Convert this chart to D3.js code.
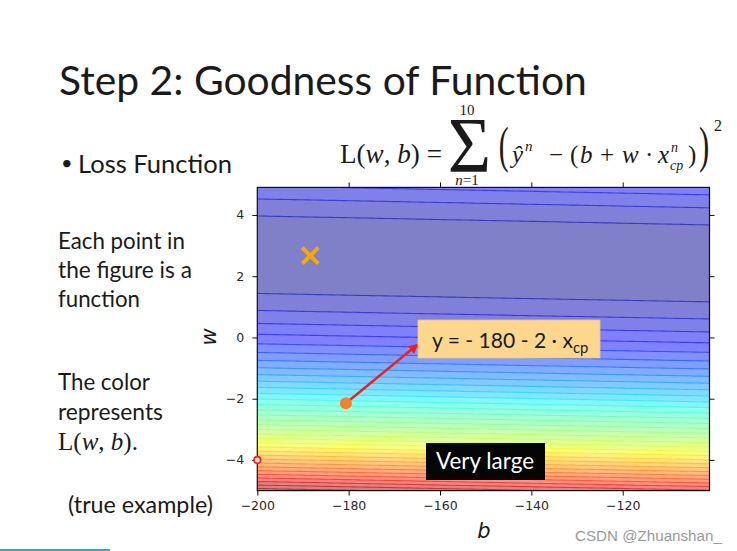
<!DOCTYPE html>
<html><head><meta charset="utf-8">
<script src="https://cdn.jsdelivr.net/npm/d3@7"></script>
<style>html,body{margin:0;padding:0;background:#fff;} svg{display:block;}</style>
</head><body><svg id="c" width="737" height="551"></svg>
<script>
// ---------------- data ----------------
const xCp  = [338, 333, 328, 207, 226, 25, 179, 60, 208, 606];     // x_cp^n
const yHat = [640, 633, 619, 393, 428, 27, 193, 66, 226, 1591];    // y-hat^n
const bValues = d3.range(-200, -100, 1);                 // b grid
const wValues = d3.range(-50, 50, 1).map(k => k / 10);   // w grid
const xTicks = [-200, -180, -160, -140, -120];
const yTicks = [-4, -2, 0, 2, 4];
const levelStep = 150000;
const bestFit = [-188.4, 2.67];
const pickedPoint = [-180.6, -2.15];
const startPoint = [-200, -4];

// ---------------- helpers ----------------
const svg = d3.select('#c');
svg.append('rect').attr('width', 737).attr('height', 551).attr('fill', '#fff');
const SANS = 'Lato, "Open Sans", sans-serif';
const SERIF = '"Liberation Serif", "DejaVu Serif", serif';
const MPL = '"DejaVu Sans", sans-serif';
const INK = '#1a1a1a';
const cv = document.createElement('canvas').getContext('2d');

function mixed(parent, x, y, parts, font, size, fill) {
  const t = parent.append('text').attr('x', x).attr('y', y)
    .attr('font-family', font).attr('font-size', size).attr('fill', fill || INK);
  parts.forEach(p => {
    const s = t.append('tspan').text(p[0]);
    if (p[1]) s.attr('font-style', 'italic');
  });
  return t;
}
function fit(t, target) {
  const base = +t.attr('font-size');
  const w = t.node().getComputedTextLength();
  t.attr('font-size', base * target / w);
  return t;
}
function glyphBox(str, fontFam, x0, y0, x1, y1) {
  cv.font = `normal 100px ${fontFam}`;
  const m = cv.measureText(str);
  const l = m.actualBoundingBoxLeft, r = m.actualBoundingBoxRight;
  const a = m.actualBoundingBoxAscent, d = m.actualBoundingBoxDescent;
  const sx = (x1 - x0) / (l + r), sy = (y1 - y0) / (a + d);
  svg.append('text').attr('font-family', fontFam).attr('font-size', 100).attr('fill', INK)
    .attr('transform', `translate(${x0 + l * sx},${y0 + a * sy}) scale(${sx},${sy})`)
    .text(str);
}
function piece(x, y, str, italic, size) {
  return svg.append('text').attr('x', x).attr('y', y).attr('font-family', SERIF)
    .attr('font-style', italic ? 'italic' : 'normal').attr('font-size', size).attr('fill', INK).text(str);
}

// ---------------- slide text ----------------
fit(mixed(svg, 59, 95, [['Step 2: Goodness of Function']], SANS, 40), 528);
svg.append('text').attr('x', 61).attr('y', 170).attr('font-family', SANS).attr('font-size', 20).attr('fill', INK).text('•');
fit(mixed(svg, 78, 173, [['Loss Function']], SANS, 26), 154);
fit(mixed(svg, 58, 249, [['Each point in']], SANS, 20), 127);
fit(mixed(svg, 58, 278, [['the figure is a']], SANS, 20), 134);
fit(mixed(svg, 58, 307, [['function']], SANS, 20), 82);
fit(mixed(svg, 58, 390, [['The color']], SANS, 20), 92);
fit(mixed(svg, 58, 420, [['represents']], SANS, 20), 105);
fit(mixed(svg, 58, 450, [['L('], ['w', 1], [', '], ['b', 1], [').']], SERIF, 20), 80);
fit(mixed(svg, 68, 513, [['(true example)']], SANS, 20), 145);

// formula  L(w,b) = Σ ( ŷ^n − (b + w · x_cp^n) )^2
fit(mixed(svg, 340, 163, [['L('], ['w', 1], [', '], ['b', 1], [') =']], SERIF, 24), 102);
glyphBox('Σ', '"Liberation Serif"', 450, 121, 488, 172);
piece(467, 115, '10', false, 15).attr('text-anchor', 'middle');
mixed(svg, 467, 185, [['n', 1], ['=1']], SERIF, 15).attr('text-anchor', 'middle');
glyphBox('(', '"Liberation Serif"', 500, 127, 508, 173);
const FS = 25;
piece(512, 163, 'ŷ', true, FS);
piece(525, 151, 'n', true, 15);
piece(549, 163, '−', false, FS);
piece(570, 163, '(', false, FS);
piece(580, 163, 'b', true, FS);
piece(600, 163, '+', false, FS);
piece(622, 163, 'w', true, FS);
piece(645, 163, '·', false, FS);
piece(658, 163, 'x', true, FS);
piece(671, 152, 'n', true, 14);
piece(670, 170, 'cp', true, 14);
piece(688, 163, ')', false, FS);
glyphBox(')', '"Liberation Serif"', 700, 127, 708, 173);
piece(714, 131, '2', false, 16);

// ---------------- chart ----------------
const x = d3.scaleLinear().domain([-200, -101]).range([257.3, 709.5]);
const y = d3.scaleLinear().domain([-5, 4.9]).range([490.6, 187.4]);

const nx = bValues.length, ny = wValues.length;
const Z = new Array(nx * ny);
for (let j = 0; j < ny; j++) for (let i = 0; i < nx; i++) {
  const b = bValues[i], w = wValues[j];
  let s = 0;
  for (let n = 0; n < xCp.length; n++) { const r = yHat[n] - b - w * xCp[n]; s += r * r; }
  Z[j * nx + i] = s / xCp.length;
}
const zmax = d3.max(Z);
const levels = d3.range(0, Math.ceil(zmax / levelStep) * levelStep + 1, levelStep);
const lmax = levels[levels.length - 1];

function interp(stops, t) {
  for (let k = 1; k < stops.length; k++) {
    if (t <= stops[k][0]) {
      const [t0, v0] = stops[k - 1], [t1, v1] = stops[k];
      return v0 + (v1 - v0) * (t - t0) / (t1 - t0);
    }
  }
  return stops[stops.length - 1][1];
}
const JR = [[0, 0], [0.35, 0], [0.66, 1], [0.89, 1], [1, 0.5]];
const JG = [[0, 0], [0.125, 0], [0.375, 1], [0.64, 1], [0.91, 0], [1, 0]];
const JB = [[0, 0.5], [0.11, 1], [0.34, 1], [0.65, 0], [1, 0]];
const jet = t => [interp(JR, t), interp(JG, t), interp(JB, t)];
const rgb = (c, a) => `rgb(${c.map(v => Math.round(255 * (v * a + (1 - a)))).join(',')})`;
const rgbRaw = c => `rgb(${c.map(v => Math.round(255 * v)).join(',')})`;

const bands = levels.slice(0, -1);
const contours = d3.contours().size([nx, ny]).thresholds(bands)(Z);
const db = bValues[1] - bValues[0], dw = 0.1;
const proj = d3.geoTransform({
  point(px, py) { this.stream.point(x(bValues[0] + (px - 0.5) * db), y(wValues[0] + (py - 0.5) * dw)); }
});
const path = d3.geoPath(proj);

svg.append('clipPath').attr('id', 'clip').append('rect')
  .attr('x', x(-200)).attr('y', y(4.9)).attr('width', x(-101) - x(-200)).attr('height', y(-5) - y(4.9));
const gc = svg.append('g').attr('clip-path', 'url(#clip)');
contours.forEach((c, k) => {
  const mid = (levels[k] + levels[k + 1]) / 2 / lmax;
  gc.append('path').attr('d', path(c)).attr('fill', rgb(jet(mid), 0.5)).attr('stroke', 'none');
});
contours.forEach((c, k) => {
  if (k === 0) return;
  const mid = (levels[k] + levels[k + 1]) / 2 / lmax;
  gc.append('path').attr('d', path(c)).attr('fill', 'none')
    .attr('stroke', rgbRaw(jet(mid))).attr('stroke-opacity', 0.55).attr('stroke-width', 1.1);
});

// frame & axes
const axStyle = g => {
  g.select('.domain').remove();
  g.attr('font-family', MPL).attr('font-size', 12.5);
  g.selectAll('text').attr('fill', '#2a2a2a');
  g.selectAll('line').attr('stroke', '#111');
};
svg.append('g').attr('transform', `translate(0,${y(-5)})`)
  .call(d3.axisBottom(x).tickValues(xTicks).tickSize(5).tickPadding(6)).call(axStyle);
svg.append('g').attr('transform', `translate(${x(-200)},0)`)
  .call(d3.axisLeft(y).tickValues(yTicks).tickSize(5).tickPadding(8)).call(axStyle);
svg.append('g').attr('transform', `translate(0,${y(4.9)})`)
  .call(d3.axisTop(x).tickValues(xTicks.slice(1)).tickSize(5)).call(axStyle)
  .selectAll('text').remove();
svg.append('g').attr('transform', `translate(${x(-101)},0)`)
  .call(d3.axisRight(y).tickValues(yTicks).tickSize(5)).call(axStyle)
  .selectAll('text').remove();
svg.append('rect').attr('x', x(-200)).attr('y', y(4.9)).attr('width', x(-101) - x(-200))
  .attr('height', y(-5) - y(4.9)).attr('fill', 'none').attr('stroke', '#111').attr('stroke-width', 1.2);

svg.append('text').attr('x', 484).attr('y', 538).attr('text-anchor', 'middle')
  .attr('font-family', MPL).attr('font-style', 'italic').attr('font-size', 21).attr('fill', '#1a1a1a').text('b');
svg.append('text').attr('transform', 'translate(216,337) rotate(-90)').attr('text-anchor', 'middle')
  .attr('font-family', MPL).attr('font-style', 'italic').attr('font-size', 21).attr('fill', '#1a1a1a').text('w');

// marks
const bx = x(bestFit[0]), by = y(bestFit[1]), s = 8;
svg.append('path').attr('d', `M${bx - s},${by - s}L${bx + s},${by + s}M${bx - s},${by + s}L${bx + s},${by - s}`)
  .attr('stroke', '#ffa500').attr('stroke-width', 4);
svg.append('circle').attr('cx', x(startPoint[0])).attr('cy', y(startPoint[1])).attr('r', 3.3)
  .attr('fill', '#ffd6d6').attr('stroke', '#ee1c1c').attr('stroke-width', 1.6);

svg.append('defs').append('marker').attr('id', 'ah').attr('viewBox', '0 0 10 10').attr('refX', 8).attr('refY', 5)
  .attr('markerWidth', 4).attr('markerHeight', 4).attr('orient', 'auto')
  .append('path').attr('d', 'M0,0L10,5L0,10z').attr('fill', '#e8231f');
const px = x(pickedPoint[0]), py = y(pickedPoint[1]);
svg.append('line').attr('x1', px).attr('y1', py).attr('x2', 417).attr('y2', 345)
  .attr('stroke', '#e8231f').attr('stroke-width', 2.5).attr('marker-end', 'url(#ah)');
svg.append('circle').attr('cx', px).attr('cy', py).attr('r', 6).attr('fill', '#f4802f');

// annotation box
svg.append('rect').attr('x', 418).attr('y', 320).attr('width', 182).attr('height', 38)
  .attr('fill', '#fdd78e').attr('stroke', '#f3c670').attr('stroke-width', 0.8);
const ta = fit(mixed(svg, 432, 348, [['y = - 180 - 2 · x']], SANS, 20), 141);
const sa = +ta.attr('font-size');
ta.append('tspan').attr('font-size', sa * 0.7).attr('dy', 5).text('cp');

svg.append('rect').attr('x', 426).attr('y', 443).attr('width', 119).attr('height', 37).attr('fill', '#050505');
fit(mixed(svg, 436, 469, [['Very large']], SANS, 20, '#ffffff'), 98);

// watermark & bottom bar
fit(mixed(svg, 575, 541, [['CSDN @Zhuanshan_']], '"Liberation Sans", Arial, sans-serif', 15, '#9a9a9a'), 147);
svg.append('rect').attr('x', 0).attr('y', 549).attr('width', 110).attr('height', 2).attr('fill', '#1ab0ee');
</script>
</body></html>
